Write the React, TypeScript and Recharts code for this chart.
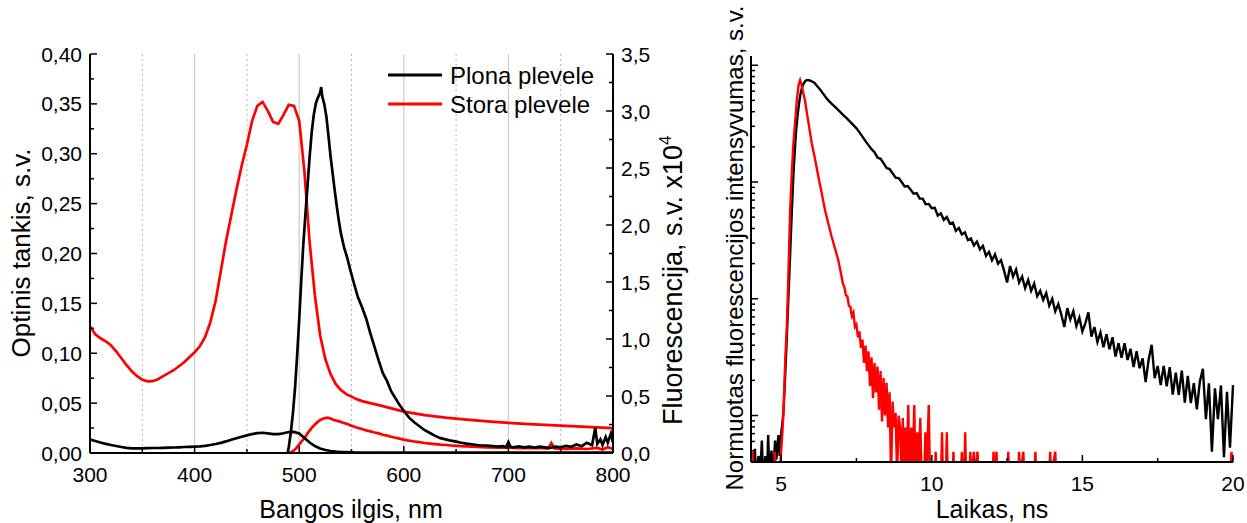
import React from 'react'
import { LineChart, Line, XAxis, YAxis, CartesianGrid, Legend } from 'recharts'

const FONT = '"Liberation Sans", Arial, Helvetica, sans-serif'

// ---------- left panel: absorption (left axis) and fluorescence (right axis, x10^4) ----------
// [wavelength nm, optical density]
const absThin: [number, number][] = [
  [300, 0.0135], [305, 0.012], [310, 0.0105], [315, 0.0092], [320, 0.008], [325, 0.007], [330, 0.006],
  [335, 0.0052], [340, 0.0047], [345, 0.0046], [350, 0.0047], [355, 0.0048], [360, 0.005], [365, 0.005],
  [370, 0.0052], [375, 0.0053], [380, 0.0055], [385, 0.0057], [390, 0.006], [395, 0.0062], [400, 0.0064],
  [405, 0.0067], [410, 0.0072], [415, 0.008], [420, 0.009], [425, 0.0102], [430, 0.0116], [435, 0.0132],
  [440, 0.0148], [445, 0.0163], [450, 0.0177], [455, 0.019], [460, 0.0199], [465, 0.0203], [470, 0.0196],
  [475, 0.0189], [480, 0.019], [485, 0.0198], [490, 0.021], [495, 0.0212], [500, 0.0195], [505, 0.015],
  [510, 0.0105], [515, 0.007], [520, 0.0045], [525, 0.003], [530, 0.002], [535, 0.0014], [540, 0.001],
  [545, 0.0008], [550, 0.0006], [555, 0.0005], [560, 0.0004], [580, 0.0003], [600, 0.0003], [620, 0.0003],
  [640, 0.0003], [660, 0.0003], [680, 0.0003], [700, 0.0003], [720, 0.0003], [740, 0.0003], [760, 0.0003],
  [780, 0.0003], [800, 0.0003],
]

const absThick: [number, number][] = [
  [300, 0.127], [305, 0.119], [310, 0.115], [315, 0.112], [320, 0.108], [325, 0.102], [330, 0.095],
  [335, 0.088], [340, 0.082], [345, 0.077], [350, 0.0735], [355, 0.0718], [360, 0.072], [365, 0.074],
  [370, 0.077], [375, 0.08], [380, 0.083], [385, 0.087], [390, 0.091], [395, 0.096], [400, 0.101],
  [405, 0.107], [410, 0.116], [415, 0.131], [420, 0.152], [425, 0.182], [430, 0.212], [435, 0.238],
  [440, 0.264], [445, 0.288], [450, 0.309], [455, 0.333], [460, 0.348], [465, 0.352], [470, 0.343],
  [475, 0.332], [480, 0.33], [485, 0.339], [490, 0.349], [495, 0.348], [500, 0.333], [505, 0.282],
  [510, 0.211], [515, 0.158], [520, 0.118], [525, 0.094], [530, 0.079], [535, 0.069], [540, 0.063],
  [545, 0.059], [550, 0.0565], [555, 0.054], [560, 0.052], [580, 0.047], [600, 0.0415], [620, 0.038],
  [640, 0.0355], [660, 0.0335], [680, 0.0318], [700, 0.0302], [720, 0.029], [740, 0.028], [760, 0.027],
  [780, 0.026], [800, 0.025],
]

// [wavelength nm, fluorescence x10^4]
const flThin: [number, number][] = [
  [489, 0], [490, 0.05], [492, 0.18], [494, 0.35], [496, 0.57], [498, 0.85], [500, 1.17], [502, 1.52],
  [504, 1.84], [506, 2.1], [508, 2.35], [510, 2.6], [512, 2.82], [514, 2.97], [516, 3.07], [518, 3.12],
  [520, 3.16], [521, 3.21], [522, 3.13], [524, 3.06], [526, 2.95], [528, 2.78], [530, 2.6], [532, 2.45],
  [534, 2.3], [536, 2.16], [538, 2.03], [540, 1.92], [543, 1.8], [546, 1.71], [549, 1.6], [552, 1.5],
  [556, 1.37], [560, 1.28], [564, 1.18], [568, 1.05], [572, 0.93], [576, 0.81], [580, 0.7], [584, 0.63],
  [588, 0.54], [592, 0.48], [596, 0.42], [600, 0.37], [605, 0.31], [610, 0.27], [615, 0.235], [620, 0.2],
  [625, 0.175], [630, 0.15], [635, 0.13], [640, 0.12], [645, 0.108], [650, 0.1], [655, 0.09], [660, 0.082],
  [665, 0.077], [670, 0.07], [675, 0.066], [680, 0.064], [685, 0.06], [690, 0.057], [695, 0.06], [698, 0.052],
  [700, 0.095], [702, 0.055], [705, 0.05], [710, 0.058], [715, 0.05], [720, 0.055], [725, 0.047], [730, 0.055],
  [735, 0.05], [740, 0.044], [745, 0.056], [750, 0.05], [755, 0.062], [760, 0.054], [765, 0.075], [770, 0.06],
  [775, 0.09], [780, 0.068], [783, 0.22], [785, 0.08], [788, 0.12], [790, 0.07], [793, 0.14], [795, 0.09],
  [798, 0.17], [800, 0.09],
]

const flThick: [number, number][] = [
  [491, 0], [494, 0.015], [497, 0.04], [500, 0.075], [503, 0.11], [506, 0.145], [509, 0.185], [512, 0.22],
  [515, 0.25], [518, 0.275], [521, 0.295], [524, 0.305], [527, 0.31], [530, 0.302], [533, 0.29], [536, 0.283],
  [539, 0.275], [542, 0.266], [545, 0.258], [548, 0.245], [551, 0.236], [554, 0.226], [557, 0.218], [560, 0.21],
  [564, 0.198], [568, 0.19], [572, 0.18], [576, 0.172], [580, 0.16], [584, 0.153], [588, 0.142], [592, 0.134],
  [596, 0.126], [600, 0.117], [605, 0.108], [610, 0.101], [615, 0.095], [620, 0.088], [625, 0.083], [630, 0.078],
  [635, 0.073], [640, 0.07], [645, 0.066], [650, 0.063], [655, 0.06], [660, 0.058], [670, 0.053], [680, 0.05],
  [690, 0.046], [700, 0.047], [710, 0.043], [720, 0.042], [730, 0.045], [738, 0.039], [741, 0.088], [744, 0.04],
  [750, 0.038], [755, 0.036], [765, 0.04], [775, 0.035], [785, 0.045], [790, 0.03], [795, 0.05], [800, 0.035],
]

const nmTicks = [300, 350, 400, 450, 500, 550, 600, 650, 700, 750, 800]
const odTicks = [0, 0.025, 0.05, 0.075, 0.1, 0.125, 0.15, 0.175, 0.2, 0.225, 0.25, 0.275, 0.3, 0.325, 0.35, 0.375, 0.4]
const flTicks = [0, 0.25, 0.5, 0.75, 1, 1.25, 1.5, 1.75, 2, 2.25, 2.5, 2.75, 3, 3.25, 3.5]
const gridSolid = [400, 500, 600, 700]
const gridDotted = [350, 450, 550, 650, 750]
const legendItems = [
  { name: 'Plona plevele', color: '#000000' },
  { name: 'Stora plevele', color: '#ff0000' },
]

// ---------- right panel: normalised decay, log scale ----------
// [time ns, normalised intensity]; 0.0003 = empty channel (below axis)
const decayThin: [number, number][] = [
  [4.0, 0.0003], [4.1, 0.0003], [4.13, 0.00052], [4.16, 0.0003], [4.25, 0.00045], [4.3, 0.0003], [4.36, 0.00061],
  [4.4, 0.0003], [4.48, 0.00045], [4.53, 0.0003], [4.57, 0.00068], [4.61, 0.0003], [4.68, 0.0005], [4.73, 0.0003],
  [4.8, 0.00061], [4.84, 0.00042], [4.91, 0.00068], [4.95, 0.00045], [5.0, 0.0007], [5.04, 0.00085], [5.08, 0.0011],
  [5.12, 0.0018], [5.16, 0.0031], [5.2, 0.0055], [5.24, 0.01], [5.28, 0.018], [5.32, 0.033], [5.36, 0.06],
  [5.4, 0.105], [5.45, 0.18], [5.5, 0.28], [5.55, 0.38], [5.6, 0.48], [5.65, 0.58], [5.7, 0.65], [5.75, 0.7],
  [5.8, 0.73], [5.85, 0.745], [5.9, 0.745], [5.95, 0.74], [6.0, 0.733], [6.1, 0.708], [6.2, 0.661], [6.3, 0.617],
  [6.4, 0.569], [6.5, 0.525], [6.6, 0.49], [6.7, 0.462], [6.8, 0.437], [6.9, 0.412], [7.0, 0.389], [7.1, 0.367],
  [7.2, 0.347], [7.3, 0.326], [7.4, 0.307], [7.5, 0.288], [7.6, 0.266], [7.7, 0.245], [7.8, 0.224], [7.9, 0.207],
  [8.0, 0.191], [8.1, 0.18], [8.2, 0.162], [8.3, 0.158], [8.4, 0.145], [8.5, 0.132], [8.6, 0.129], [8.7, 0.119],
  [8.8, 0.109], [8.9, 0.108], [9.0, 0.1], [9.1, 0.0918], [9.2, 0.0925], [9.3, 0.0859], [9.4, 0.0794], [9.5, 0.0804],
  [9.6, 0.0721], [9.7, 0.0721], [9.8, 0.0644], [9.9, 0.0649], [10.0, 0.0596], [10.1, 0.0601], [10.2, 0.0516],
  [10.3, 0.054], [10.4, 0.0474], [10.5, 0.0501], [10.6, 0.0441], [10.7, 0.045], [10.8, 0.0382], [10.9, 0.0404],
  [11.0, 0.0355], [11.1, 0.0371], [11.2, 0.0318], [11.3, 0.0329], [11.4, 0.0286], [11.5, 0.0309], [11.6, 0.0265],
  [11.7, 0.0284], [11.8, 0.0233], [11.9, 0.0252], [12.0, 0.0214], [12.1, 0.024], [12.2, 0.02], [12.3, 0.0214],
  [12.4, 0.0174], [12.5, 0.0138], [12.6, 0.0191], [12.7, 0.0155], [12.8, 0.0178], [12.9, 0.0138], [13.0, 0.0155],
  [13.1, 0.0123], [13.2, 0.0145], [13.3, 0.0117], [13.4, 0.0135], [13.5, 0.0105], [13.6, 0.0117], [13.7, 0.00977],
  [13.8, 0.0112], [13.9, 0.00871], [14.0, 0.01], [14.1, 0.0078], [14.2, 0.009], [14.3, 0.00735], [14.4, 0.00573],
  [14.5, 0.00832], [14.6, 0.00664], [14.7, 0.00783], [14.8, 0.00583], [14.9, 0.00689], [15.0, 0.00525],
  [15.1, 0.00619], [15.2, 0.00766], [15.3, 0.00474], [15.4, 0.00573], [15.5, 0.00427], [15.6, 0.00515],
  [15.7, 0.00384], [15.8, 0.00497], [15.9, 0.0037], [16.0, 0.00468], [16.1, 0.0032], [16.2, 0.00417],
  [16.3, 0.00313], [16.4, 0.00417], [16.5, 0.00299], [16.6, 0.00372], [16.7, 0.0026], [16.8, 0.00355],
  [16.9, 0.00254], [17.0, 0.00309], [17.1, 0.00193], [17.2, 0.00302], [17.3, 0.00403], [17.4, 0.00209],
  [17.5, 0.00266], [17.6, 0.00182], [17.7, 0.00266], [17.8, 0.00178], [17.9, 0.0026], [18.0, 0.00151],
  [18.1, 0.00233], [18.2, 0.0015], [18.3, 0.00242], [18.4, 0.00129], [18.5, 0.00219], [18.6, 0.00128],
  [18.7, 0.00189], [18.8, 0.00113], [18.9, 0.00196], [19.0, 0.00251], [19.1, 0.00093], [19.2, 0.00189],
  [19.3, 0.00049], [19.4, 0.00171], [19.5, 0.00093], [19.6, 0.00181], [19.7, 0.00044], [19.8, 0.0016],
  [19.9, 0.00053], [20.0, 0.00182],
]

const decayThick: [number, number][] = [
  [4.0, 0.0003], [4.04, 0.0003], [4.06, 0.00049], [4.08, 0.0003], [4.76, 0.0003], [4.79, 0.00049], [4.82, 0.0003],
  [4.96, 0.0003], [5.0, 0.0005], [5.04, 0.00071], [5.07, 0.00098], [5.1, 0.00158], [5.14, 0.00316], [5.19, 0.00575],
  [5.24, 0.0158], [5.3, 0.0575], [5.35, 0.112], [5.4, 0.2], [5.46, 0.316], [5.52, 0.5], [5.58, 0.676], [5.63, 0.745],
  [5.68, 0.676], [5.73, 0.589], [5.79, 0.501], [5.9, 0.331], [6.02, 0.213], [6.13, 0.155], [6.24, 0.11],
  [6.35, 0.0794], [6.46, 0.0571], [6.57, 0.0437], [6.68, 0.0338], [6.79, 0.0269], [6.9, 0.0213], [7.0, 0.0158],
  [7.05, 0.0135], [7.1, 0.0126], [7.15, 0.0107], [7.2, 0.0105], [7.25, 0.0087], [7.3, 0.0085], [7.35, 0.0071],
  [7.4, 0.0076], [7.45, 0.00575], [7.5, 0.00603], [7.55, 0.00468], [7.6, 0.00525], [7.65, 0.0038], [7.7, 0.00447],
  [7.75, 0.00282], [7.8, 0.00398], [7.85, 0.0024], [7.9, 0.00355], [7.95, 0.00178], [8.0, 0.00316], [8.05, 0.00141],
  [8.1, 0.00282], [8.15, 0.00158], [8.2, 0.00263], [8.25, 0.00112], [8.3, 0.0024], [8.35, 0.00089], [8.4, 0.00209],
  [8.45, 0.001], [8.5, 0.00191], [8.55, 0.00079], [8.6, 0.00158], [8.65, 0.0003], [8.7, 0.00132], [8.75, 0.00079],
  [8.8, 0.00105], [8.85, 0.0003], [8.9, 0.001], [8.95, 0.00079], [9.0, 0.0003], [9.04, 0.00095], [9.08, 0.0003],
  [9.13, 0.00079], [9.17, 0.0003], [9.22, 0.00123], [9.26, 0.0003], [9.32, 0.00079], [9.36, 0.0003], [9.42, 0.00123],
  [9.46, 0.0003], [9.52, 0.00072], [9.56, 0.0003], [9.62, 0.00095], [9.66, 0.0003], [9.75, 0.0003], [9.79, 0.00072],
  [9.83, 0.0003], [9.9, 0.00123], [9.94, 0.0003], [10.1, 0.0003], [10.13, 0.00049], [10.16, 0.0003], [10.31, 0.0003],
  [10.34, 0.00072], [10.37, 0.0003], [10.47, 0.0003], [10.5, 0.00072], [10.53, 0.0003], [10.69, 0.0003],
  [10.72, 0.00049], [10.75, 0.0003], [10.97, 0.0003], [11.0, 0.00049], [11.03, 0.0003], [11.08, 0.0003],
  [11.11, 0.00072], [11.14, 0.0003], [11.25, 0.0003], [11.28, 0.00049], [11.31, 0.0003], [11.4, 0.00049],
  [11.43, 0.0003], [11.52, 0.00049], [11.55, 0.0003], [12.02, 0.0003], [12.05, 0.00049], [12.08, 0.0003],
  [12.15, 0.00049], [12.18, 0.0003], [12.51, 0.0003], [12.54, 0.00049], [12.57, 0.0003], [12.87, 0.0003],
  [12.9, 0.00049], [12.93, 0.0003], [13.04, 0.00049], [13.07, 0.0003], [13.41, 0.0003], [13.44, 0.00049],
  [13.47, 0.0003], [13.9, 0.0003], [13.93, 0.00049], [13.96, 0.0003], [14.1, 0.00049], [14.13, 0.0003],
  [19.9, 0.0003], [19.95, 0.00049], [20.0, 0.0003],
]

const timeTicks = [5, 7.5, 10, 12.5, 15, 17.5, 20]
const decayTicks = [
  0.0005, 0.0006, 0.0007, 0.0008, 0.0009, 0.001, 0.002, 0.003, 0.004, 0.005, 0.006, 0.007, 0.008, 0.009,
  0.01, 0.02, 0.03, 0.04, 0.05, 0.06, 0.07, 0.08, 0.09, 0.1, 0.2, 0.3, 0.4, 0.5, 0.6, 0.7, 0.8, 0.9, 1,
]

const pts = (arr: [number, number][]) => arr.map(([x, y]) => ({ x, y }))
const comma = (v: number, d: number) => v.toFixed(d).replace('.', ',')
const frame = { stroke: '#000', strokeWidth: 2 }

const textStyle = { fontFamily: FONT, fill: '#000' }

const bottomTick = (isMajor: (v: number) => boolean, fmt: (v: number) => string) => (p: any) => {
  const v = p.payload.value
  const major = isMajor(v)
  return (
    <g>
      <line x1={p.x} x2={p.x} y1={p.y} y2={p.y - (major ? 7 : 4)} stroke="#000" strokeWidth={1.5} />
      {major && (
        <text x={p.x} y={p.y + 21} textAnchor="middle" dominantBaseline="central" fontSize={21} {...textStyle}>
          {fmt(v)}
        </text>
      )}
    </g>
  )
}

const leftTick = (isMajor: (v: number) => boolean, fmt: ((v: number) => string) | null) => (p: any) => {
  const v = p.payload.value
  const major = isMajor(v)
  return (
    <g>
      <line x1={p.x} x2={p.x + (major ? 7 : 4)} y1={p.y} y2={p.y} stroke="#000" strokeWidth={1.5} />
      {major && fmt && (
        <text x={p.x - 8} y={p.y} textAnchor="end" dominantBaseline="central" fontSize={21} {...textStyle}>
          {fmt(v)}
        </text>
      )}
    </g>
  )
}

const rightTick = (isMajor: (v: number) => boolean, fmt: (v: number) => string) => (p: any) => {
  const v = p.payload.value
  const major = isMajor(v)
  return (
    <g>
      <line x1={p.x} x2={p.x - (major ? 7 : 4)} y1={p.y} y2={p.y} stroke="#000" strokeWidth={1.5} />
      {major && (
        <text x={p.x + 8} y={p.y} textAnchor="start" dominantBaseline="central" fontSize={21} {...textStyle}>
          {fmt(v)}
        </text>
      )}
    </g>
  )
}

const isPow10 = (v: number) => Math.abs(Math.log10(v) - Math.round(Math.log10(v))) < 1e-6

function LegendBox() {
  return (
    <svg width={230} height={62}>
      {legendItems.map((it, i) => (
        <g key={it.name}>
          <line x1={0} x2={54} y1={17 + i * 29} y2={17 + i * 29} stroke={it.color} strokeWidth={3} />
          <text x={62} y={17 + i * 29} dominantBaseline="central" fontSize={24} {...textStyle}>
            {it.name}
          </text>
        </g>
      ))}
    </svg>
  )
}

const lineProps = { type: 'linear' as const, dot: false, activeDot: false, isAnimationActive: false, legendType: 'none' as const }

export default function App() {
  return (
    <div style={{ position: 'absolute', left: 0, top: 0, width: 1247, height: 523, background: '#fff' }}>
      <div style={{ position: 'absolute', left: 0, top: 0 }}>
        <LineChart width={700} height={523} margin={{ top: 54, right: 0, bottom: 0, left: 0 }}>
          <CartesianGrid xAxisId="nm" yAxisId="od" horizontal={false} verticalValues={gridSolid} stroke="#cccccc" strokeWidth={1.2} />
          <CartesianGrid xAxisId="nm" yAxisId="od" horizontal={false} verticalValues={gridDotted} stroke="#b4b4b4" strokeDasharray="2 3" />
          <XAxis
            xAxisId="nm" type="number" dataKey="x" domain={[300, 800]} ticks={nmTicks} interval={0}
            height={70} tickSize={0} tickMargin={0} tickLine={false} axisLine={frame}
            tick={bottomTick(v => v % 100 === 0, v => String(v))}
          />
          <XAxis xAxisId="top" orientation="top" type="number" dataKey="x" domain={[300, 800]} height={0} tick={false} tickLine={false} axisLine={frame} />
          <YAxis
            yAxisId="od" type="number" domain={[0, 0.4]} ticks={odTicks} interval={0} width={90}
            tickSize={0} tickMargin={0} tickLine={false} axisLine={frame}
            tick={leftTick(v => Math.round(v * 1000) % 50 === 0, v => comma(v, 2))}
          />
          <YAxis
            yAxisId="fl" orientation="right" type="number" domain={[0, 3.5]} ticks={flTicks} interval={0} width={87}
            tickSize={0} tickMargin={0} tickLine={false} axisLine={frame}
            tick={rightTick(v => Math.round(v * 100) % 50 === 0, v => comma(v, 1))}
          />
          <Line {...lineProps} xAxisId="nm" yAxisId="od" data={pts(absThick)} dataKey="y" stroke="#ff0000" strokeWidth={2.7} />
          <Line {...lineProps} xAxisId="nm" yAxisId="fl" data={pts(flThick)} dataKey="y" stroke="#ff0000" strokeWidth={2.7} />
          <Line {...lineProps} xAxisId="nm" yAxisId="od" data={pts(absThin)} dataKey="y" stroke="#000000" strokeWidth={2.7} />
          <Line {...lineProps} xAxisId="nm" yAxisId="fl" data={pts(flThin)} dataKey="y" stroke="#000000" strokeWidth={2.7} />
          <Legend
            layout="vertical" align="center" verticalAlign="middle" content={() => <LegendBox />}
            wrapperStyle={{ position: 'absolute', left: 388, top: 58, width: 230, height: 62, margin: 0 }}
          />
        </LineChart>
      </div>

      <div style={{ position: 'absolute', left: 700, top: 0 }}>
        <LineChart width={547} height={523} margin={{ top: 56, right: 14, bottom: 0, left: 0 }}>
          <XAxis
            xAxisId="t" type="number" dataKey="x" domain={[4, 20]} ticks={timeTicks} interval={0}
            height={61} tickSize={0} tickMargin={0} tickLine={false} axisLine={frame}
            tick={bottomTick(v => v % 5 === 0, v => String(v))}
          />
          <XAxis xAxisId="top" orientation="top" type="number" dataKey="x" domain={[4, 20]} height={0} tick={false} tickLine={false} axisLine={frame} />
          <YAxis
            yAxisId="i" type="number" scale="log" domain={[0.0004, 1.2]} allowDataOverflow ticks={decayTicks} interval={0}
            width={51} tickSize={0} tickMargin={0} tickLine={false} axisLine={frame}
            tick={leftTick(isPow10, null)}
          />
          <YAxis yAxisId="r" orientation="right" type="number" domain={[0, 1]} width={0} tick={false} tickLine={false} axisLine={frame} />
          <Line {...lineProps} xAxisId="t" yAxisId="i" data={pts(decayThin)} dataKey="y" stroke="#000000" strokeWidth={2.4} />
          <Line {...lineProps} xAxisId="t" yAxisId="i" data={pts(decayThick)} dataKey="y" stroke="#ff0000" strokeWidth={2.4} />
        </LineChart>
      </div>

      <svg width={1247} height={523} style={{ position: 'absolute', left: 0, top: 0, pointerEvents: 'none' }}>
        <text transform="translate(21,253) rotate(-90)" textAnchor="middle" dominantBaseline="central" fontSize={26} {...textStyle}>
          Optinis tankis, s.v.
        </text>
        <text x={351} y={509} textAnchor="middle" dominantBaseline="central" fontSize={25} {...textStyle}>
          Bangos ilgis, nm
        </text>
        <text transform="translate(682,425) rotate(-90)" textAnchor="start" fontSize={27} {...textStyle}>
          Fluorescencija, s.v. x10<tspan dy={-11} fontSize={17}>4</tspan>
        </text>
        <text transform="translate(743,248) rotate(-90)" textAnchor="middle" fontSize={24} {...textStyle}>
          Normuotas fluorescencijos intensyvumas, s.v.
        </text>
        <text x={992} y={509} textAnchor="middle" dominantBaseline="central" fontSize={25} {...textStyle}>
          Laikas, ns
        </text>
      </svg>
    </div>
  )
}
